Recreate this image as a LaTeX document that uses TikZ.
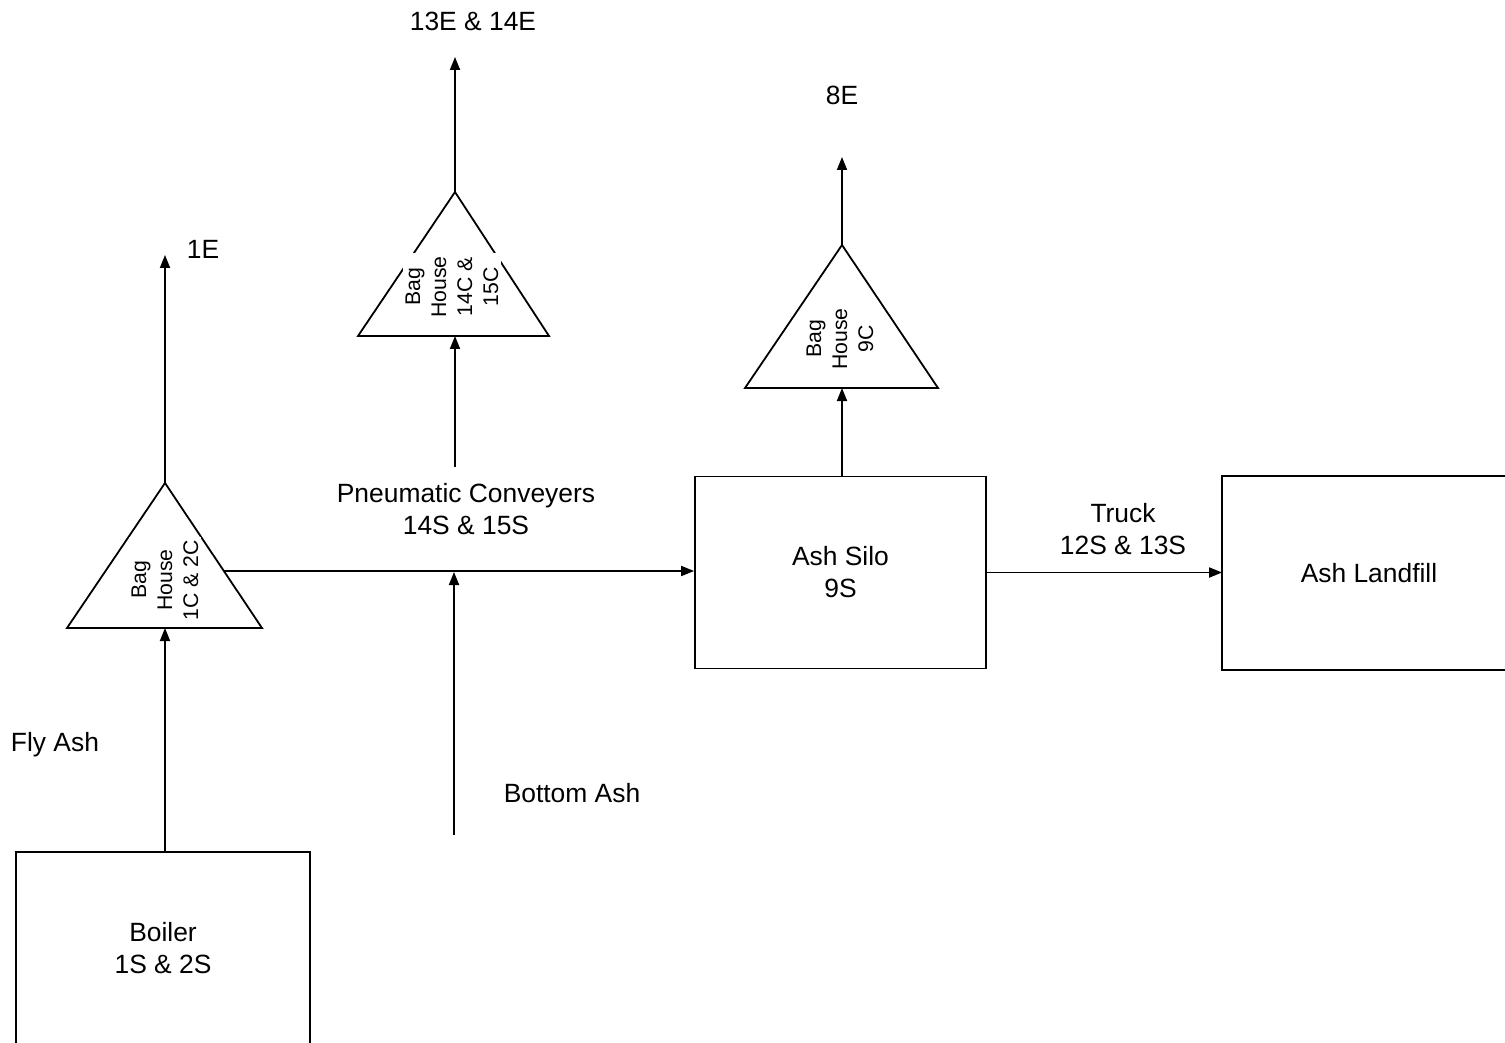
\documentclass[tikz,border=0pt]{standalone}
\usepackage{fontspec}
\setmainfont{Liberation Sans}
\usetikzlibrary{arrows.meta}
\begin{document}
\begin{tikzpicture}[x=0.5pt,y=-0.5pt,
  line width=0.9pt,
  flow/.style={-{Triangle[length=6.5pt,width=5pt]}},
  boxnode/.style={rectangle, inner sep=0pt, align=center, minimum width=146pt, font=\fontsize{13.2pt}{16pt}\selectfont},
  lbl/.style={align=center, inner sep=0pt, font=\fontsize{13.2pt}{16pt}\selectfont},
  bagtxt/.style={rotate=90, align=center, fill=white, inner sep=1.5pt, font=\fontsize{10.6pt}{13pt}\selectfont},
]
\fill[white] (0,0) rectangle (1505,1043);
\useasboundingbox (0,0) rectangle (1505,1043);
\clip (0,0) rectangle (1505,1043);

% boxes
\node[boxnode, minimum height=95pt] (boiler) at (163,948) {Boiler\\1S \& 2S};
\draw (boiler.south west) -- (boiler.north west) -- (boiler.north east) -- (boiler.south east);
\node[boxnode, draw, minimum width=145.5pt, minimum height=96pt] (silo) at (840.5,572.5) {Ash Silo\\9S};
\node[boxnode, minimum height=96pt] (landfill) at (1369,573) {Ash Landfill};
\draw (landfill.north east) -- (landfill.north west) -- (landfill.south west) -- (landfill.south east);

% bag house 1
\coordinate (t1apex) at (165,483);
\coordinate (t1base) at (165,628);
\coordinate (t1right) at (224,571);
\draw (t1apex) -- (67,628) -- (262,628) -- cycle;
\node[bagtxt] (bh1) at (165,580) {Bag\\House\\1C \& 2C};
\coordinate (e1) at (165,255);

% bag house 2
\coordinate (t2apex) at (455,192);
\coordinate (t2base) at (455,336);
\draw (t2apex) -- (358,336) -- (549,336) -- cycle;
\node[bagtxt] (bh2) at (452,287) {Bag\\House\\14C \&\\15C};
\coordinate (e2) at (455,57);

% bag house 3
\coordinate (t3apex) at (842,245);
\coordinate (t3base) at (842,388);
\draw (t3apex) -- (745,388) -- (938,388) -- cycle;
\node[bagtxt] (bh3) at (840,339) {Bag\\House\\9C};
\coordinate (e3) at (842,157);

% other coordinates
\coordinate (bottomash) at (454,835);
\coordinate (junction) at (454,572);
\coordinate (pc) at (455,467);

% labels
\node[lbl] (l1e) at (203,249) {1E};
\node[lbl] (l13e) at (473,21) {13E \& 14E};
\node[lbl] (l8e) at (842,95) {8E};
\node[lbl] (lfly) at (55,745) {Fly Ash};
\node[lbl] (lbottom) at (572,793) {Bottom Ash};
\node[lbl] (lpc) at (466,509) {Pneumatic Conveyers\\14S \& 15S};
\node[lbl] (ltruck) at (1123,529) {Truck\\12S \& 13S};

% connectors
\draw[flow] (t1base |- boiler.north) -- (t1base);
\draw[flow] (t1apex) -- (e1);
\draw[flow] (t1right) -- (t1right -| silo.west);
\draw[flow] (bottomash) -- (junction);
\draw[flow] (pc) -- (t2base);
\draw[flow] (t2apex) -- (e2);
\draw[flow] (t3base |- silo.north) -- (t3base);
\draw[flow] (t3apex) -- (e3);
\draw[flow] (silo.east) -- (silo.east -| landfill.west);
\end{tikzpicture}
\end{document}
